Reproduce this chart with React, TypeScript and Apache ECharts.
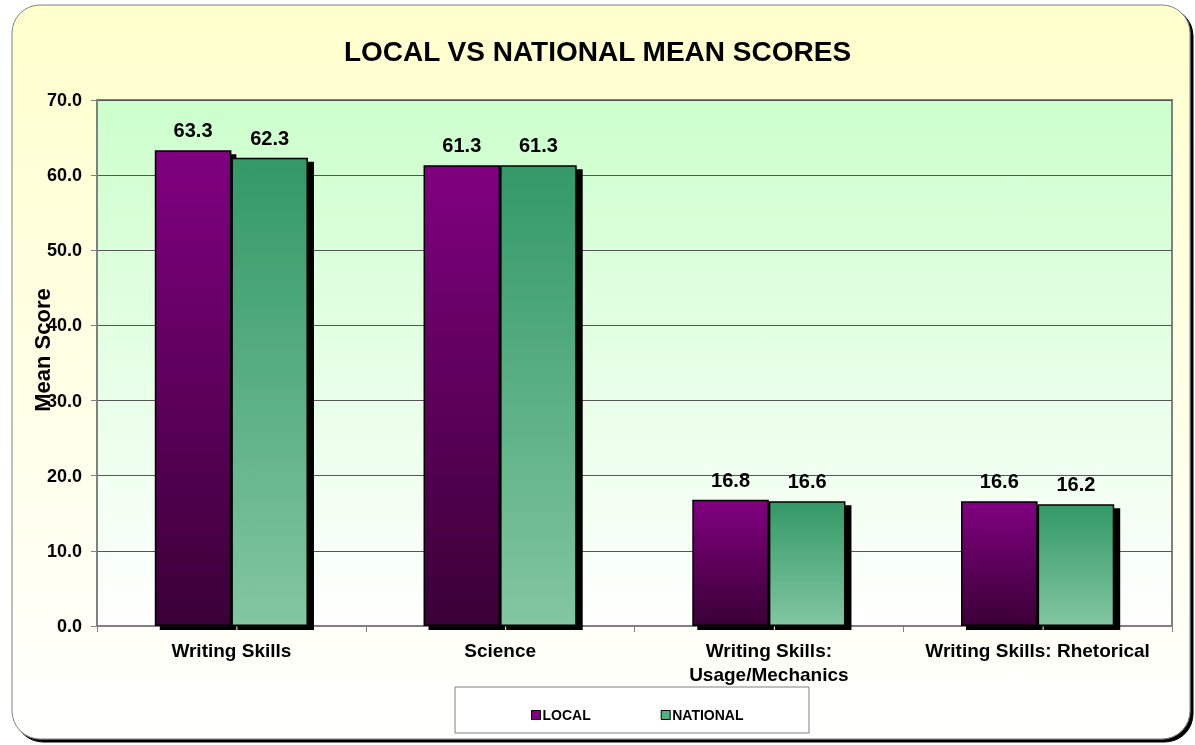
import React, { useEffect, useRef } from "react";
import * as echarts from "echarts";

const categories = [
  "Writing Skills",
  "Science",
  "Writing Skills:\nUsage/Mechanics",
  "Writing Skills: Rhetorical",
];
const localScores = [63.3, 61.3, 16.8, 16.6];
const nationalScores = [62.3, 61.3, 16.6, 16.2];
const seriesNames = ["LOCAL", "NATIONAL"];
const yMin = 0;
const yMax = 70;
const yInterval = 10;

const FONT = "Arial, 'Liberation Sans', sans-serif";

export default function App() {
  const ref = useRef<HTMLDivElement>(null);
  useEffect(() => {
    if (!ref.current) return;
    const chart = echarts.init(ref.current, null, { renderer: "svg" });
    const vgrad = (top: string, bottom: string) =>
      new echarts.graphic.LinearGradient(0, 0, 0, 1, [
        { offset: 0, color: top },
        { offset: 1, color: bottom },
      ]);
    const labelStyle = {
      show: true,
      position: "top" as const,
      distance: 10,
      fontFamily: FONT,
      fontWeight: "bold" as const,
      fontSize: 20,
      color: "#000",
      formatter: (p: any) => Number(p.value).toFixed(1),
    };
    chart.setOption({
      animation: false,
      graphic: [
        {
          type: "rect",
          z: -10,
          silent: true,
          shape: { x: 12, y: 5, width: 1178, height: 734, r: 28 },
          style: {
            fill: vgrad("#FFFFCC", "#FFFFFF"),
            stroke: "#808080",
            lineWidth: 1,
            shadowColor: "#000",
            shadowOffsetX: 3,
            shadowOffsetY: 3,
            shadowBlur: 0,
          },
        },
        {
          type: "rect",
          z: -5,
          silent: true,
          shape: { x: 455, y: 687, width: 354, height: 46 },
          style: { fill: "#FFFFFF", stroke: "#808080", lineWidth: 1 },
        },
      ],
      title: {
        text: "LOCAL VS NATIONAL MEAN SCORES",
        left: "center",
        top: 32,
        textStyle: {
          fontFamily: FONT,
          fontWeight: "bold",
          fontSize: 28,
          color: "#000",
        },
      },
      legend: {
        left: 526,
        top: 703,
        itemWidth: 9,
        itemHeight: 9,
        itemGap: 70,
        icon: "rect",
        data: [
          { name: seriesNames[0], itemStyle: { color: "#800080", borderColor: "#000", borderWidth: 1 } },
          { name: seriesNames[1], itemStyle: { color: "#55B080", borderColor: "#000", borderWidth: 1 } },
        ],
        textStyle: {
          fontFamily: FONT,
          fontWeight: "bold",
          fontSize: 14,
          color: "#000",
          padding: [0, 0, 0, -3],
        },
      },
      grid: {
        left: 97,
        right: 23,
        top: 100,
        bottom: 119,
        outerBoundsMode: "none",
        containLabel: false,
        show: true,
        backgroundColor: vgrad("#CCFFCC", "#FFFFFF"),
        borderColor: "#808080",
        borderWidth: 2,
      },
      xAxis: {
        type: "category",
        data: categories,
        axisLine: { show: true, lineStyle: { color: "#808080", width: 1 } },
        axisTick: {
          show: true,
          alignWithLabel: false,
          length: 6,
          lineStyle: { color: "#808080" },
        },
        axisLabel: {
          fontFamily: FONT,
          fontWeight: "bold",
          fontSize: 19,
          color: "#000",
          margin: 12,
          lineHeight: 24,
          interval: 0,
        },
      },
      yAxis: {
        type: "value",
        min: yMin,
        max: yMax,
        interval: yInterval,
        name: "Mean Score",
        nameLocation: "middle",
        nameRotate: 90,
        nameGap: 44,
        nameMoveOverlap: false,
        nameTextStyle: {
          fontFamily: FONT,
          fontWeight: "bold",
          fontSize: 22,
          color: "#000",
          padding: [0, 0, 0, 26],
        },
        axisLine: { show: true, lineStyle: { color: "#808080", width: 1 } },
        axisTick: {
          show: true,
          inside: false,
          length: 6,
          lineStyle: { color: "#808080" },
        },
        axisLabel: {
          fontFamily: FONT,
          fontWeight: "bold",
          fontSize: 18,
          color: "#000",
          margin: 15,
          formatter: (v: number) => v.toFixed(1),
        },
        splitLine: { show: true, lineStyle: { color: "#555555", width: 1 } },
      },
      series: [
        {
          name: seriesNames[0],
          type: "bar",
          data: localScores,
          barGap: "0%",
          barCategoryGap: "43%",
          itemStyle: {
            color: vgrad("#800080", "#3A0036"),
            borderColor: "#000",
            borderWidth: 1.5,
            shadowColor: "#000",
            shadowOffsetX: 5,
            shadowOffsetY: 4,
            shadowBlur: 0,
          },
          label: labelStyle,
        },
        {
          name: seriesNames[1],
          type: "bar",
          data: nationalScores,
          itemStyle: {
            color: vgrad("#339966", "#82C6A2"),
            borderColor: "#000",
            borderWidth: 1.5,
            shadowColor: "#000",
            shadowOffsetX: 6,
            shadowOffsetY: 4,
            shadowBlur: 0,
          },
          label: labelStyle,
        },
      ],
    });
    return () => chart.dispose();
  }, []);
  return (
    <div
      ref={ref}
      style={{ position: "fixed", left: 0, top: 0, width: 1195, height: 745 }}
    />
  );
}
